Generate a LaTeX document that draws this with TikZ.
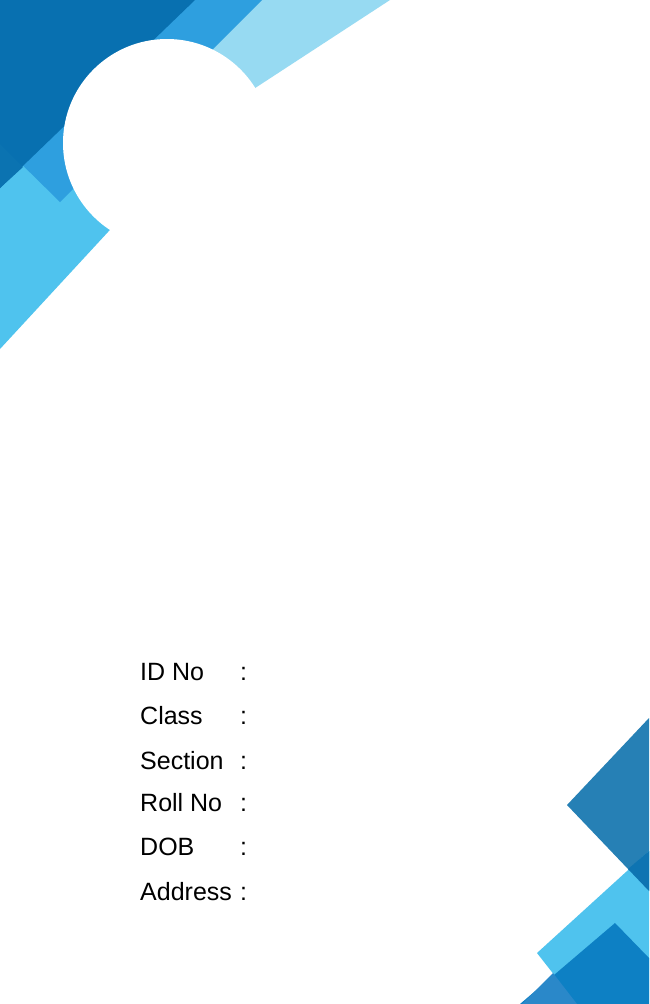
\documentclass[tikz,border=0pt]{standalone}
\usepackage{fontspec}
\setmainfont{Liberation Sans}
\definecolor{darkb}{HTML}{0870B0}
\definecolor{darkc}{HTML}{0B73B1}
\definecolor{medb}{HTML}{2E9FDF}
\definecolor{lightb}{HTML}{97DAF2}
\definecolor{cyanb}{HTML}{4FC3EE}
\definecolor{steelb}{HTML}{2680B5}
\definecolor{overb}{HTML}{0E74B2}
\definecolor{squareb}{HTML}{0D80C4}
\definecolor{lowb}{HTML}{2A88C9}
\tikzset{
  lbl/.style={anchor=base west, inner sep=0pt, font=\fontsize{25}{29}\selectfont},
}
\begin{document}
\begin{tikzpicture}[x=1pt,y=-1pt]
\useasboundingbox (0,0) rectangle (649,1004);
\fill[white] (0,0) rectangle (649,1004);
% top-left shapes
\fill[cyanb] (0,150) -- (120,150) -- (120,219) -- (0,349) -- cycle;
\fill[lightb] (240,0) -- (390,0) -- (200,124) -- (160,100) -- cycle;
\fill[medb] (194,0) -- (262,0) -- (60,202) -- (0,143) -- cycle;
\fill[darkb] (0,0) -- (195,0) -- (0,188) -- cycle;
\fill[darkc] (0,144) -- (23,167) -- (0,188) -- cycle;
\fill[white] (167,143) circle (104);
% bottom-right shapes
\fill[steelb] (649,718) -- (567,805) -- (649,891) -- cycle;
\fill[cyanb] (537,953) -- (649,851) -- (649,1004) -- (577,1004) -- cycle;
\fill[overb] (628,869) -- (649,851) -- (649,891) -- cycle;
\fill[squareb] (615,923) -- (649,958) -- (649,1004) -- (520,1004) -- cycle;
\fill[lowb] (553,973) -- (522,1004) -- (577,1004) -- cycle;
% text
\node[lbl] (l1) at (140,680) {ID No};
\node[lbl] (l2) at (140,724) {Class};
\node[lbl] (l3) at (140,769) {Section};
\node[lbl] (l4) at (140,811) {Roll No};
\node[lbl] (l5) at (140,855) {DOB};
\node[lbl] (l6) at (140,900) {Address};
\node[lbl] (c1) at (240,680) {:};
\node[lbl] (c2) at (240,724) {:};
\node[lbl] (c3) at (240,769) {:};
\node[lbl] (c4) at (240,811) {:};
\node[lbl] (c5) at (240,855) {:};
\node[lbl] (c6) at (240,900) {:};
\end{tikzpicture}
\end{document}
